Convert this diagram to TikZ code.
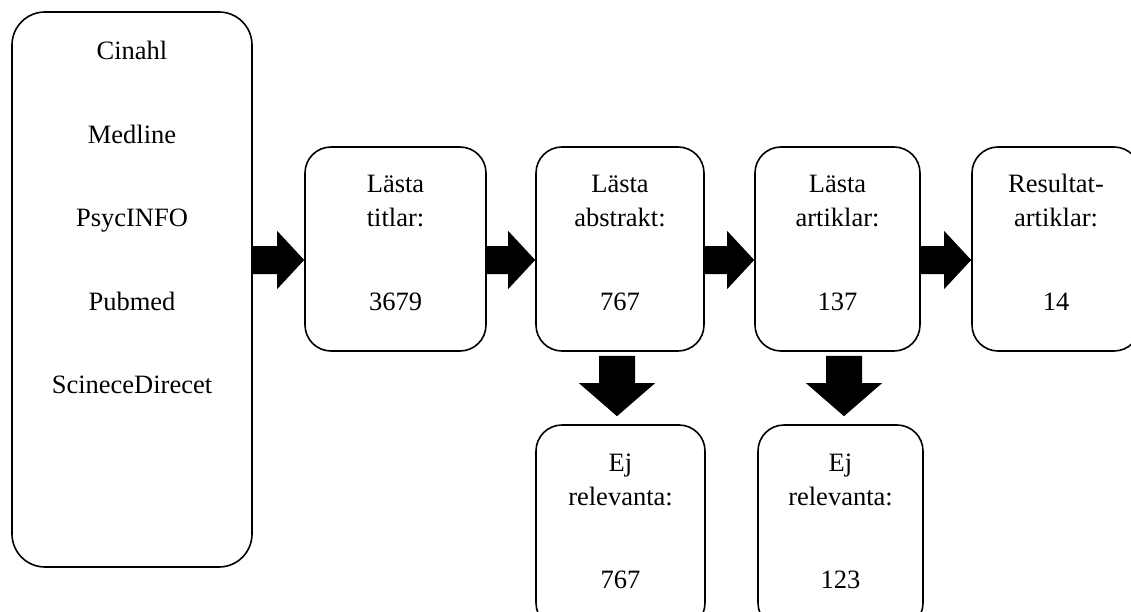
\documentclass[tikz,border=0pt]{standalone}
\usepackage{fontspec}
\setmainfont{Liberation Serif}
\usetikzlibrary{calc}
\newcommand\harr[2]{%
  \path (#1.east|-0,260) coordinate (hs) (#2.west|-0,260) coordinate (ht);
  \fill[black] ($(hs)+(0,-14)$) -- ($(ht)+(-27,-14)$) -- ($(ht)+(-27,-29)$) -- (ht)
    -- ($(ht)+(-27,29)$) -- ($(ht)+(-27,14)$) -- ($(hs)+(0,14)$) -- cycle;}
\newcommand\varr[3]{%
  \path (#1.south-|#3,0) coordinate (vs) (#2.north-|#3,0) coordinate (vt);
  \fill[black] ($(vs)+(-18,4)$) -- ($(vt)+(-18,-41)$) -- ($(vt)+(-38,-41)$) -- ($(vt)+(0,-8)$)
    -- ($(vt)+(38,-41)$) -- ($(vt)+(18,-41)$) -- ($(vs)+(18,4)$) -- cycle;}
\begin{document}
\begin{tikzpicture}[x=1pt,y=-1pt,
  box/.style={draw, line width=1.6pt, rounded corners=26pt, inner sep=0pt, minimum height=204pt},
  lbl/.style={anchor=base, inner sep=0pt, font=\fontsize{26.5}{32}\selectfont}]
\clip (0,0) rectangle (1131,612);
\fill[white] (0,0) rectangle (1131,612);
% boxes
\node[box, minimum width=240pt, minimum height=555pt, rounded corners=33pt] (src) at (132,289.5) {};
\node[box, minimum width=181pt] (b2) at (395.5,249) {};
\node[box, minimum width=168pt] (b3) at (620,249) {};
\node[box, minimum width=165pt] (b4) at (837.5,249) {};
\node[box, minimum width=168pt] (b5) at (1056,249) {};
\node[box, minimum width=169pt] (b6) at (620.5,527) {};
\node[box, minimum width=165pt] (b7) at (840.5,527) {};
% texts
\node[lbl] (s1) at (132,60) {Cinahl};
\node[lbl] (s2) at (132,144) {Medline};
\node[lbl] (s3) at (132,227) {PsycINFO};
\node[lbl] (s4) at (132,310) {Pubmed};
\node[lbl] (s5) at (132,393) {ScineceDirecet};
\node[lbl] (t21) at (395.5,193) {Lästa};
\node[lbl] (t22) at (395.5,227) {titlar:};
\node[lbl] (t23) at (395.5,310) {3679};
\node[lbl] (t31) at (620,193) {Lästa};
\node[lbl] (t32) at (620,227) {abstrakt:};
\node[lbl] (t33) at (620,310) {767};
\node[lbl] (t41) at (837.5,193) {Lästa};
\node[lbl] (t42) at (837.5,227) {artiklar:};
\node[lbl] (t43) at (837.5,310) {137};
\node[lbl] (t51) at (1056,193) {Resultat-};
\node[lbl] (t52) at (1056,227) {artiklar:};
\node[lbl] (t53) at (1056,310) {14};
\node[lbl] (t61) at (620.5,471) {Ej};
\node[lbl] (t62) at (620.5,505) {relevanta:};
\node[lbl] (t63) at (620.5,588) {767};
\node[lbl] (t71) at (840.5,471) {Ej};
\node[lbl] (t72) at (840.5,505) {relevanta:};
\node[lbl] (t73) at (840.5,588) {123};
% arrows
\harr{src}{b2}
\harr{b2}{b3}
\harr{b3}{b4}
\harr{b4}{b5}
\varr{b3}{b6}{617}
\varr{b4}{b7}{844}
\end{tikzpicture}
\end{document}
